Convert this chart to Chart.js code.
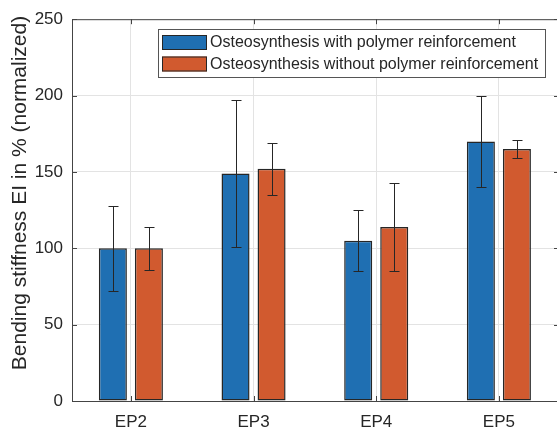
<!DOCTYPE html>
<html>
<head>
<meta charset="utf-8">
<script src="https://cdn.jsdelivr.net/npm/chart.js@4.4.1/dist/chart.umd.min.js"></script>
<style>
  html, body { margin: 0; padding: 0; background: #fff; overflow: hidden; }
  canvas { display: block; }
</style>
</head>
<body>
<canvas id="chart" width="562" height="428"></canvas>
<script>
// Data
const categories = ['EP2', 'EP3', 'EP4', 'EP5'];
const withReinforcement = [100, 149, 105, 170];
const withReinforcementErr = [28, 48, 20, 30];
const withoutReinforcement = [100, 152, 114, 165];
const withoutReinforcementErr = [14, 17, 29, 6];
const yTicks = [0, 50, 100, 150, 200, 250];
const seriesLabels = ['Osteosynthesis with polymer reinforcement', 'Osteosynthesis without polymer reinforcement'];
const yTitle = 'Bending stiffness EI in % (normalized)';

const BLUE = '#1f6fb2';
const ORANGE = '#d15a2f';
const TEXT = '#262626';
const FONT = "'Liberation Sans', Arial, Helvetica, sans-serif";

// error bars drawn on top of the bars
const errorBars = {
    id: 'errorBars',
    afterDatasetsDraw(chart) {
        const ctx = chart.ctx;
        const y = chart.scales.y;
        ctx.save();
        ctx.strokeStyle = '#262626';
        ctx.lineWidth = 1;
        chart.data.datasets.forEach((ds, di) => {
            const meta = chart.getDatasetMeta(di);
            meta.data.forEach((bar, i) => {
                const v = ds.data[i].y;
                const e = ds.errors[i];
                const x = Math.round(bar.x) + 0.5;
                const top = Math.round(y.getPixelForValue(v + e)) + 0.5;
                const bot = Math.round(y.getPixelForValue(v - e)) + 0.5;
                ctx.beginPath();
                ctx.moveTo(x, top); ctx.lineTo(x, bot);
                ctx.moveTo(x - 5, top); ctx.lineTo(x + 5, top);
                ctx.moveTo(x - 5, bot); ctx.lineTo(x + 5, bot);
                ctx.stroke();
            });
        });
        ctx.restore();
    }
};

// MATLAB style box: top line and inward ticks
const axesBox = {
    id: 'axesBox',
    afterDraw(chart) {
        const ctx = chart.ctx;
        const a = chart.chartArea;
        const x = chart.scales.x, y = chart.scales.y;
        ctx.save();
        ctx.strokeStyle = '#444';
        ctx.lineWidth = 1;
        ctx.beginPath();
        ctx.moveTo(a.left, a.top + 0.5); ctx.lineTo(a.right, a.top + 0.5);
        ctx.moveTo(a.right - 0.5, a.top); ctx.lineTo(a.right - 0.5, a.bottom);
        categories.forEach((c, i) => {
            const px = Math.round(x.getPixelForValue(i + 1)) + 0.5;
            ctx.moveTo(px, a.bottom); ctx.lineTo(px, a.bottom - 5);
            ctx.moveTo(px, a.top); ctx.lineTo(px, a.top + 5);
        });
        yTicks.forEach(t => {
            const py = Math.round(y.getPixelForValue(t)) + 0.5;
            ctx.moveTo(a.left, py); ctx.lineTo(a.left + 5, py);
            ctx.moveTo(a.right, py); ctx.lineTo(a.right - 5, py);
        });
        ctx.stroke();

        // y axis title
        ctx.fillStyle = TEXT;
        ctx.font = `21px ${FONT}`;
        ctx.textAlign = 'center';
        ctx.textBaseline = 'middle';
        ctx.translate(20, 193);
        ctx.rotate(-Math.PI / 2);
        ctx.fillText(yTitle, 0, 0);
        ctx.restore();
    }
};

// legend box inside the axes
const legendBox = {
    id: 'legendBox',
    afterDraw(chart) {
        const ctx = chart.ctx;
        const colors = [BLUE, ORANGE];
        ctx.save();
        ctx.fillStyle = '#fff';
        ctx.fillRect(158, 29, 387, 48);
        ctx.strokeStyle = '#555';
        ctx.lineWidth = 1;
        ctx.strokeRect(158.5, 29.5, 387, 48);
        ctx.font = `16px ${FONT}`;
        ctx.textBaseline = 'middle';
        seriesLabels.forEach((label, i) => {
            const sy = 35 + i * 21.5;
            ctx.fillStyle = colors[i];
            ctx.fillRect(162, sy, 45, 15);
            ctx.strokeStyle = '#262626';
            ctx.strokeRect(162.5, sy + 0.5, 44, 14);
            ctx.fillStyle = TEXT;
            ctx.fillText(label, 210, sy + 8);
        });
        ctx.restore();
    }
};

const toPoints = vals => vals.map((v, i) => ({ x: i + 1, y: v }));

new Chart(document.getElementById('chart'), {
    type: 'bar',
    data: {
        datasets: [
            {
                label: seriesLabels[0],
                data: toPoints(withReinforcement),
                errors: withReinforcementErr,
                backgroundColor: BLUE,
                borderColor: '#262626',
                borderWidth: 1.5,
                borderSkipped: false,
                inflateAmount: 0
            },
            {
                label: seriesLabels[1],
                data: toPoints(withoutReinforcement),
                errors: withoutReinforcementErr,
                backgroundColor: ORANGE,
                borderColor: '#262626',
                borderWidth: 1.5,
                borderSkipped: false,
                inflateAmount: 0
            }
        ]
    },
    options: {
        responsive: false,
        animation: false,
        devicePixelRatio: 1,
        categoryPercentage: 0.5875,
        barPercentage: 0.778,
        layout: { padding: { left: 0, top: 17, right: 3, bottom: 0 } },
        plugins: {
            legend: { display: false },
            tooltip: { enabled: false }
        },
        scales: {
            x: {
                type: 'linear',
                min: 0.52,
                max: 4.49,
                offset: false,
                afterBuildTicks: scale => {
                    scale.ticks = categories.map((c, i) => ({ value: i + 1 }));
                },
                afterFit: scale => { scale.height = 27; },
                ticks: {
                    color: TEXT,
                    font: { family: FONT, size: 17 },
                    padding: 11,
                    maxRotation: 0,
                    callback: v => categories[v - 1]
                },
                grid: { color: '#e3e3e3', drawTicks: false, offset: false },
                border: { display: true, color: '#444', width: 1 }
            },
            y: {
                min: 0,
                max: 250,
                afterBuildTicks: scale => {
                    scale.ticks = yTicks.map(v => ({ value: v }));
                },
                afterFit: scale => { scale.width = 72; },
                ticks: {
                    color: TEXT,
                    font: { family: FONT, size: 17 },
                    padding: 9
                },
                grid: { color: '#e3e3e3', drawTicks: false },
                border: { display: true, color: '#444', width: 1 }
            }
        }
    },
    plugins: [errorBars, axesBox, legendBox]
});
</script>
</body>
</html>
